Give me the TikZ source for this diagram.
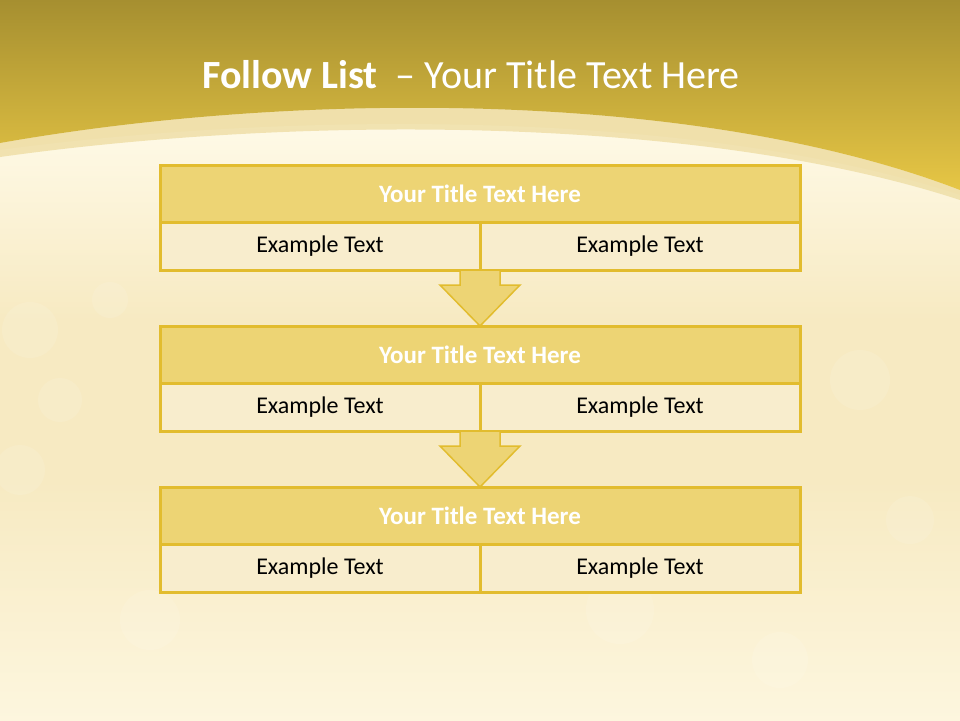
\documentclass[tikz,border=0pt]{standalone}
\usepackage{fontspec}
\setmainfont{Carlito}
\usetikzlibrary{positioning,calc}
\definecolor{goldDark}{HTML}{A68F30}
\definecolor{goldMid}{HTML}{E6C645}
\definecolor{goldLine}{HTML}{E2BC2E}
\definecolor{headFill}{HTML}{EDD474}
\definecolor{cellFill}{HTML}{F8EDCD}
\definecolor{creamBg}{HTML}{F7EAC2}
\definecolor{creamLight}{HTML}{FFFBEA}
\definecolor{bandFill}{HTML}{EFDFA8}
\begin{document}
\begin{tikzpicture}[x=1pt,y=-1pt,
  headbox/.style={draw=goldLine,line width=3pt,fill=headFill,minimum width=640pt,minimum height=57pt,inner sep=0pt,outer sep=0pt,text=white,font=\fontsize{25}{30}\selectfont\bfseries},
  cellbox/.style={draw=goldLine,line width=3pt,fill=cellFill,minimum width=320pt,minimum height=48pt,inner sep=0pt,outer sep=0pt,font=\fontsize{24}{29}\selectfont},
  downarrow/.style={draw=goldLine,line width=1.5pt,fill=headFill,line join=miter}]
\useasboundingbox (0,0) rectangle (960,720);
% background
\fill[creamBg] (0,0) rectangle (960,720);
\shade[top color=creamBg,bottom color=creamLight!70!creamBg] (0,480) rectangle (960,720);
\shade[top color=creamLight,bottom color=creamBg] (0,150) .. controls (300,110) and (700,110) .. (960,195) -- (960,320) -- (0,320) -- cycle;
\foreach \cx/\cy/\r in {30/330/28,60/400/22,110/300/18,20/470/25,150/620/30,330/560/26,620/610/34,860/380/30,910/520/24,780/660/28}{
  \fill[white,opacity=0.1] (\cx,\cy) circle (\r);
}
% top band
\fill[bandFill,opacity=0.85] (0,143) .. controls (300,90) and (700,90) .. (960,190) -- (960,200) .. controls (700,115) and (300,115) .. (0,157) -- cycle;
\shade[top color=goldDark,bottom color=goldMid] (0,0) -- (960,0) -- (960,190) .. controls (700,90) and (300,90) .. (0,143) -- cycle;
\node[text=white,font=\fontsize{40}{46}\selectfont] (title) at (471,75) {{\bfseries Follow List}\ \ -- Your Title Text Here};
% blocks
\foreach \i/\y in {1/165,2/326,3/487}{
  \node[headbox,anchor=north] (t\i) at (480,\y) {Your Title Text Here};
  \node[cellbox,anchor=north west] (l\i) at (t\i.south west) {Example Text};
  \node[cellbox,anchor=north east] (r\i) at (t\i.south east) {Example Text};
}
% arrows
\foreach \i/\j in {1/2,2/3}{
  \draw[downarrow] ($(l\i.south east)+(-20,0)$) -- ($(t\j.north)+(-20,-41)$) -- ($(t\j.north)+(-40,-41)$)
    -- (t\j.north) -- ($(t\j.north)+(40,-41)$) -- ($(t\j.north)+(20,-41)$) -- ($(r\i.south west)+(20,0)$) -- cycle;
}
\end{tikzpicture}
\end{document}
